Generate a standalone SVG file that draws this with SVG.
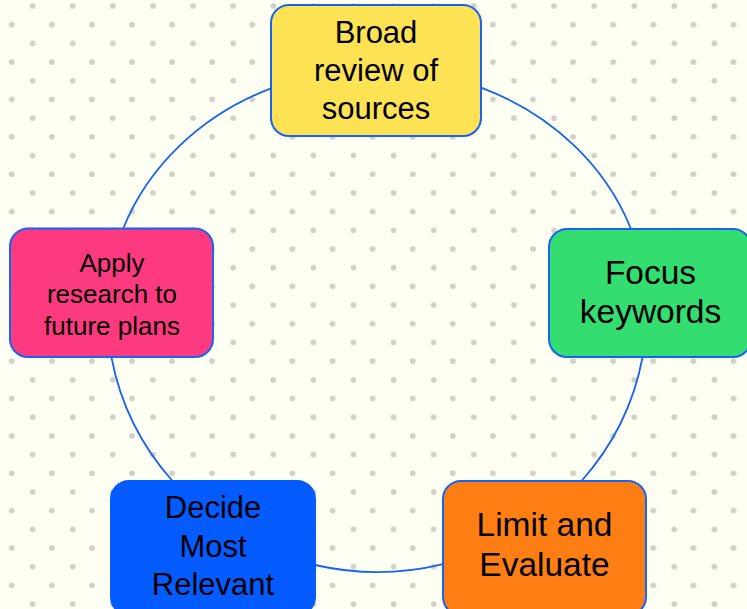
<svg xmlns="http://www.w3.org/2000/svg" width="747" height="609" viewBox="0 0 747 609">
  <defs>
    <!-- staggered dot grid for the paper background -->
    <pattern id="dots" patternUnits="userSpaceOnUse" x="0" y="0" width="40.1" height="37.38">
      <circle cx="32.7" cy="6" r="2.9" fill="#cfd0c8"/>
      <circle cx="11.7" cy="24.69" r="2.9" fill="#cfd0c8"/>
    </pattern>
    <style>
      .node rect { stroke: #1863f7; stroke-width: 2; }
      .node text { font-family: "Liberation Sans", Arial, sans-serif; fill: #000; text-anchor: middle; }
      .edge { fill: none; stroke: #1763f5; stroke-width: 1.8; }
    </style>
  </defs>

  <rect x="0" y="0" width="747" height="609" fill="#fffef3"/>
  <rect x="0" y="0" width="747" height="609" fill="url(#dots)"/>

  <!-- cycle connectors: arcs of one oval ring -->
  <g id="connectors">
    <path class="edge" d="M 481.7,87.8 A 270 241 0 0 1 631,229"/>
    <path class="edge" d="M 642.6,357 A 270 262 0 0 1 581.5,481"/>
    <path class="edge" d="M 443,564.1 A 270 262 0 0 1 315,565"/>
    <path class="edge" d="M 172.5,481 A 270 262 0 0 1 111.4,357"/>
    <path class="edge" d="M 123,229 A 270 241 0 0 1 271,88.3"/>
  </g>

  <g id="node-broad-review" class="node">
    <rect x="271" y="5" width="210" height="131" rx="18" fill="#fde254"/>
    <text font-size="31"><tspan x="376" y="43.3">Broad</tspan><tspan x="376" y="81.3">review of</tspan><tspan x="376" y="119.3">sources</tspan></text>
  </g>

  <g id="node-focus-keywords" class="node">
    <rect x="549" y="229" width="202" height="128" rx="18" fill="#33dd70"/>
    <text font-size="33.5"><tspan x="650.5" y="284.3">Focus</tspan><tspan x="650.5" y="323.3">keywords</tspan></text>
  </g>

  <g id="node-limit-evaluate" class="node">
    <rect x="443" y="481" width="203" height="134" rx="18" fill="#fe7e13"/>
    <text font-size="33.5"><tspan x="544.5" y="536">Limit and</tspan><tspan x="544.5" y="576">Evaluate</tspan></text>
  </g>

  <g id="node-decide-relevant" class="node">
    <rect x="111" y="481" width="204" height="134" rx="18" fill="#045bff" style="stroke:#045bff"/>
    <text font-size="31"><tspan x="213" y="518.3">Decide</tspan><tspan x="213" y="556.5">Most</tspan><tspan x="213" y="595">Relevant</tspan></text>
  </g>

  <g id="node-apply-research" class="node">
    <rect x="10" y="228.5" width="203" height="128.5" rx="18" fill="#fd3a80"/>
    <text font-size="26"><tspan x="112" y="271.7">Apply</tspan><tspan x="112" y="303.3">research to</tspan><tspan x="112" y="335">future plans</tspan></text>
  </g>
</svg>
